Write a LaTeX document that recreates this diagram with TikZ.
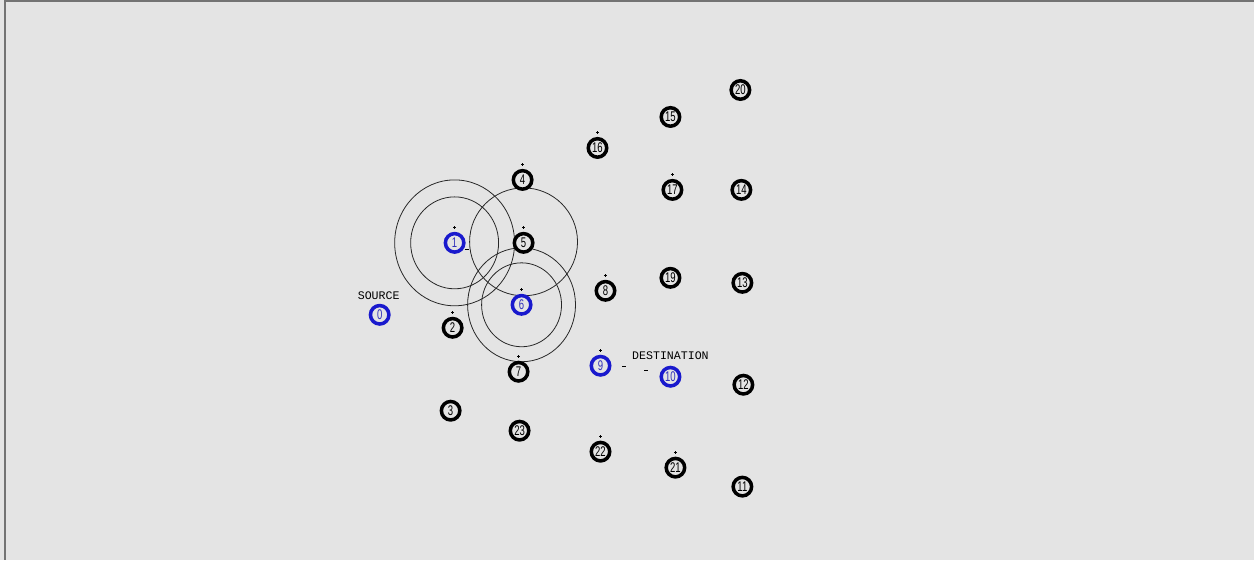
\documentclass[tikz,border=0pt]{standalone}
\usepackage{fontspec}
\setmainfont{Liberation Sans}
\newfontfamily\namfont{Liberation Mono}
\newfontfamily\digitfont[FakeStretch=0.68]{Liberation Sans}
\usepackage{tikz}

\definecolor{namgray}{RGB}{228,228,228}
\definecolor{nodeblue}{RGB}{25,25,205}

\begin{document}
\begin{tikzpicture}[x=0.02cm, y=-0.02cm,
        mote/.style={circle, draw=black, line width=2pt, fill=namgray,
                     minimum size=0.37cm, inner sep=0pt,
                     font=\digitfont\fontsize{8}{8}\selectfont},
        endmote/.style={mote, draw=nodeblue, text=nodeblue!75!gray},
        tag/.style={font=\namfont\fontsize{6.6}{7}\selectfont, inner sep=0pt},
        radiorange/.style={draw=black!85, line width=0.45pt}]
        % canvas
        \fill[namgray] (0,0) rectangle (1255,560);
        \draw[black!55, line width=1.2pt] (5,560) -- (5,1) -- (1255,1);
        \useasboundingbox (0,0) rectangle (1255,560);

        % radio ranges
        \draw[radiorange] (455,243) ellipse (60 and 63);
        \draw[radiorange] (455,243) ellipse (44 and 46);
        \draw[radiorange] (524,242) circle (54);
        \draw[radiorange] (522,305) ellipse (54 and 57);
        \draw[radiorange] (522,305) ellipse (40 and 42);

        % nodes
        \node[endmote] (n0) at (380,315) {0};
        \node[endmote] (n1) at (455,243) {1};
        \node[mote] (n2) at (453,328) {2};
        \node[mote] (n3) at (451,411) {3};
        \node[mote] (n4) at (523,180) {4};
        \node[mote] (n5) at (524,243) {5};
        \node[endmote] (n6) at (522,305) {6};
        \node[mote] (n7) at (519,372) {7};
        \node[mote] (n8) at (606,291) {8};
        \node[endmote] (n9) at (601,366) {9};
        \node[endmote] (n10) at (671,377) {10};
        \node[mote] (n11) at (743,487) {11};
        \node[mote] (n12) at (744,385) {12};
        \node[mote] (n13) at (743,283) {13};
        \node[mote] (n14) at (742,190) {14};
        \node[mote] (n15) at (671,117) {15};
        \node[mote] (n16) at (598,148) {16};
        \node[mote] (n17) at (673,190) {17};
        \node[mote] (n19) at (671,278) {19};
        \node[mote] (n20) at (741,90) {20};
        \node[mote] (n21) at (676,468) {21};
        \node[mote] (n22) at (601,452) {22};
        \node[mote] (n23) at (520,431) {23};

        % labels
        \node[tag] (src) at (379,296) {SOURCE};
        \node[tag] (dst) at (671,356) {DESTINATION};

        % small marks above nodes
        \foreach \n in {n1,n2,n4,n5,n6,n7,n8,n9,n16,n17,n21,n22}
            \draw[line width=0.5pt] (\n.north) ++(-1.5,-4) -- ++(3,0)
                                    (\n.north) ++(0,-5.5) -- ++(0,3);

        % packets in flight
        \draw[line width=0.6pt] (465,250) -- (469,250);
        \draw[line width=0.6pt] (623,367) -- (627,367);
        \draw[line width=0.6pt] (645,371) -- (649,371);
\end{tikzpicture}
\end{document}
